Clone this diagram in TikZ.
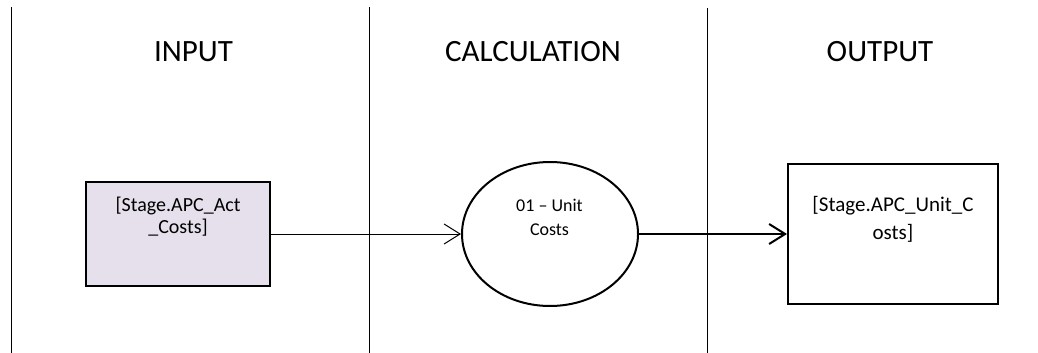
\documentclass[tikz,border=0pt]{standalone}
\usepackage{fontspec}
\setmainfont{Carlito}
\usetikzlibrary{arrows.meta,shapes.geometric}
\definecolor{actfill}{RGB}{229,224,236}
\begin{document}
\begin{tikzpicture}[
  x=0.75pt, y=-0.75pt,
  lane/.style={line width=0.75pt},
  title/.style={font=\fontsize{23.25}{28}\selectfont, anchor=base, inner sep=0pt},
  tablebox/.style={rectangle, draw, line width=1.5pt, minimum width=184*0.75pt,
    minimum height=104*0.75pt, inner sep=0pt},
  calcstep/.style={ellipse, draw, line width=1.5pt, minimum width=176*0.75pt,
    minimum height=144*0.75pt, inner sep=0pt},
  boxtext/.style={align=center, inner sep=0pt, anchor=north},
  flow/.style={-{Straight Barb[length=12pt,width=15pt]}}
]
\useasboundingbox (0,0) rectangle (1038,353);

% swim lanes
\draw[lane] (11,7) -- (11,353);
\draw[lane] (369,7) -- (369,353);
\draw[lane] (707,8) -- (707,353);

\node[title] (inTitle) at (193.5,62) {INPUT};
\node[title] (calcTitle) at (533,62) {CALCULATION};
\node[title] (outTitle) at (880,62) {OUTPUT};

% shapes
\node[tablebox, fill=actfill] (act) at (178,234) {};
\node[calcstep] (calc) at (550,234) {};
\node[tablebox, minimum width=210*0.75pt, minimum height=140*0.75pt] (unit) at (893,234) {};

\node[boxtext, font=\fontsize{15}{16}\selectfont] (actText) at (178,197)
  {[Stage.APC\_Act\\\_Costs]};
\node[boxtext, font=\fontsize{13.5}{18}\selectfont] (calcText) at (549.5,199)
  {01 – Unit\\Costs};
\node[boxtext, font=\fontsize{15.75}{21}\selectfont] (unitText) at (893,196)
  {[Stage.APC\_Unit\_C\\osts]};

% data flow
\draw[flow, line width=0.75pt] (act) -- (calc);
\draw[flow, line width=1.5pt] (calc) -- (unit);
\end{tikzpicture}
\end{document}
